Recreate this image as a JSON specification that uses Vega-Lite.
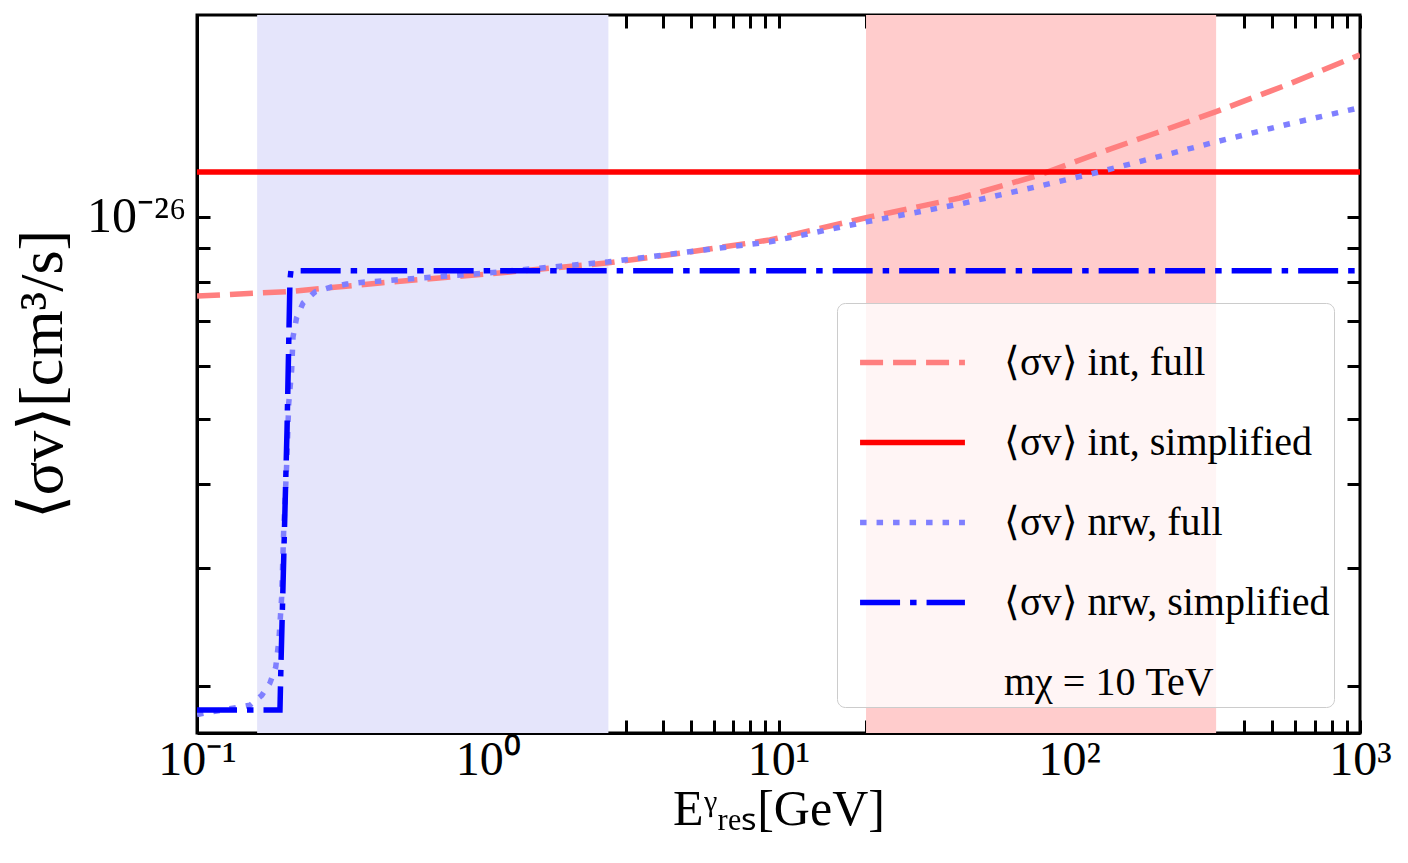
{
  "$schema": "https://vega.github.io/schema/vega-lite/v6.json",
  "width": 1163,
  "height": 718,
  "autosize": {"type": "none"},
  "padding": {"left": 197, "top": 15, "right": 48, "bottom": 130},
  "background": "white",
  "config": {
    "view": {"stroke": "black", "strokeWidth": 3},
    "axis": {
      "grid": false,
      "domainColor": "black",
      "domainWidth": 3,
      "tickColor": "black",
      "tickWidth": 3,
      "tickSize": -13,
      "labelFont": "Liberation Serif",
      "labelColor": "black",
      "titleFont": "Liberation Serif",
      "titleColor": "black",
      "titleFontWeight": "normal"
    },
    "legend": {
      "labelFont": "Liberation Serif",
      "labelColor": "black"
    }
  },
  "datasets": {
    "bands": [
      {"band": "blue", "lo": 0.161, "hi": 2.6},
      {"band": "red", "lo": 20, "hi": 320}
    ],
    "lines": [
      {"series": "⟨σv⟩ int, full", "E": 0.1, "sv": 7.62e-27},
      {"series": "⟨σv⟩ int, full", "E": 0.209, "sv": 7.74e-27},
      {"series": "⟨σv⟩ int, full", "E": 0.426, "sv": 7.97e-27},
      {"series": "⟨σv⟩ int, full", "E": 1.0, "sv": 8.22e-27},
      {"series": "⟨σv⟩ int, full", "E": 2.6, "sv": 8.54e-27},
      {"series": "⟨σv⟩ int, full", "E": 5.0, "sv": 8.87e-27},
      {"series": "⟨σv⟩ int, full", "E": 9.34, "sv": 9.24e-27},
      {"series": "⟨σv⟩ int, full", "E": 20, "sv": 9.97e-27},
      {"series": "⟨σv⟩ int, full", "E": 42, "sv": 1.067e-26},
      {"series": "⟨σv⟩ int, full", "E": 79.2, "sv": 1.155e-26},
      {"series": "⟨σv⟩ int, full", "E": 127, "sv": 1.246e-26},
      {"series": "⟨σv⟩ int, full", "E": 200, "sv": 1.335e-26},
      {"series": "⟨σv⟩ int, full", "E": 320, "sv": 1.435e-26},
      {"series": "⟨σv⟩ int, full", "E": 574, "sv": 1.58e-26},
      {"series": "⟨σv⟩ int, full", "E": 1000, "sv": 1.745e-26},
      {"series": "⟨σv⟩ int, simplified", "E": 0.1, "sv": 1.167e-26},
      {"series": "⟨σv⟩ int, simplified", "E": 1000, "sv": 1.167e-26},
      {"series": "⟨σv⟩ nrw, full", "E": 0.1, "sv": 1.812e-27},
      {"series": "⟨σv⟩ nrw, full", "E": 0.152, "sv": 1.87e-27},
      {"series": "⟨σv⟩ nrw, full", "E": 0.167, "sv": 1.935e-27},
      {"series": "⟨σv⟩ nrw, full", "E": 0.178, "sv": 2.016e-27},
      {"series": "⟨σv⟩ nrw, full", "E": 0.1865, "sv": 2.13e-27},
      {"series": "⟨σv⟩ nrw, full", "E": 0.1913, "sv": 2.337e-27},
      {"series": "⟨σv⟩ nrw, full", "E": 0.1955, "sv": 2.71e-27},
      {"series": "⟨σv⟩ nrw, full", "E": 0.1987, "sv": 3.41e-27},
      {"series": "⟨σv⟩ nrw, full", "E": 0.2035, "sv": 4.29e-27},
      {"series": "⟨σv⟩ nrw, full", "E": 0.2068, "sv": 5.28e-27},
      {"series": "⟨σv⟩ nrw, full", "E": 0.2116, "sv": 5.91e-27},
      {"series": "⟨σv⟩ nrw, full", "E": 0.2139, "sv": 6.62e-27},
      {"series": "⟨σv⟩ nrw, full", "E": 0.22, "sv": 7.07e-27},
      {"series": "⟨σv⟩ nrw, full", "E": 0.2316, "sv": 7.44e-27},
      {"series": "⟨σv⟩ nrw, full", "E": 0.2547, "sv": 7.73e-27},
      {"series": "⟨σv⟩ nrw, full", "E": 0.29, "sv": 7.86e-27},
      {"series": "⟨σv⟩ nrw, full", "E": 0.327, "sv": 7.94e-27},
      {"series": "⟨σv⟩ nrw, full", "E": 0.372, "sv": 7.99e-27},
      {"series": "⟨σv⟩ nrw, full", "E": 0.436, "sv": 8.03e-27},
      {"series": "⟨σv⟩ nrw, full", "E": 1.0, "sv": 8.25e-27},
      {"series": "⟨σv⟩ nrw, full", "E": 2.6, "sv": 8.57e-27},
      {"series": "⟨σv⟩ nrw, full", "E": 9.34, "sv": 9.18e-27},
      {"series": "⟨σv⟩ nrw, full", "E": 20, "sv": 9.83e-27},
      {"series": "⟨σv⟩ nrw, full", "E": 42, "sv": 1.045e-26},
      {"series": "⟨σv⟩ nrw, full", "E": 79.2, "sv": 1.112e-26},
      {"series": "⟨σv⟩ nrw, full", "E": 127, "sv": 1.167e-26},
      {"series": "⟨σv⟩ nrw, full", "E": 320, "sv": 1.294e-26},
      {"series": "⟨σv⟩ nrw, full", "E": 574, "sv": 1.377e-26},
      {"series": "⟨σv⟩ nrw, full", "E": 1000, "sv": 1.455e-26},
      {"series": "⟨σv⟩ nrw, simplified", "E": 0.1, "sv": 1.84e-27},
      {"series": "⟨σv⟩ nrw, simplified", "E": 0.1929, "sv": 1.84e-27},
      {"series": "⟨σv⟩ nrw, simplified", "E": 0.1945, "sv": 2.16e-27},
      {"series": "⟨σv⟩ nrw, simplified", "E": 0.204, "sv": 4.81e-27},
      {"series": "⟨σv⟩ nrw, simplified", "E": 0.2088, "sv": 8.05e-27},
      {"series": "⟨σv⟩ nrw, simplified", "E": 0.2104, "sv": 8.31e-27},
      {"series": "⟨σv⟩ nrw, simplified", "E": 1000, "sv": 8.31e-27}
    ]
  },
  "layer": [
    {
      "data": {"name": "bands"},
      "mark": {"type": "rect"},
      "encoding": {
        "x": {"field": "lo", "type": "quantitative", "scale": {"type": "log", "domain": [0.1, 1000], "nice": false}, "axis": null},
        "x2": {"field": "hi"},
        "fill": {"field": "band", "type": "nominal", "scale": {"domain": ["blue", "red"], "range": ["#e5e5fb", "#ffcccc"]}, "legend": null}
      }
    },
    {
      "data": {"name": "lines"},
      "mark": {"type": "line", "strokeWidth": 5.5, "clip": true},
      "encoding": {
        "x": {
          "field": "E", "type": "quantitative",
          "scale": {"type": "log", "domain": [0.1, 1000], "nice": false},
          "axis": {
            "orient": "bottom",
            "title": "Eᵞᵣₑₛ[GeV]",
            "titleFontSize": 50,
            "titlePadding": 0,
            "labelFontSize": 48,
            "labelPadding": 16,
            "labelFlush": false,
            "labelOverlap": false,
            "values": [0.1,0.2,0.3,0.4,0.5,0.6,0.7,0.8,0.9,1,2,3,4,5,6,7,8,9,10,20,30,40,50,60,70,80,90,100,200,300,400,500,600,700,800,900,1000],
            "labelExpr": "datum.value == 0.1 ? '10⁻¹' : datum.value == 1 ? '10⁰' : datum.value == 10 ? '10¹' : datum.value == 100 ? '10²' : datum.value == 1000 ? '10³' : ''"
          }
        },
        "y": {
          "field": "sv", "type": "quantitative",
          "scale": {"type": "log", "domain": [1.7e-27, 2.0e-26], "nice": false},
          "axis": {
            "orient": "left",
            "title": "⟨σv⟩[cm³/s]",
            "titleFontSize": 62,
            "titlePadding": 12,
            "labelFontSize": 50,
            "labelPadding": 24,
            "labelOverlap": false,
            "values": [2e-27,3e-27,4e-27,5e-27,6e-27,7e-27,8e-27,9e-27,1e-26],
            "labelExpr": "datum.value == 1e-26 ? '10⁻²⁶' : ''"
          }
        },
        "color": {
          "field": "series", "type": "nominal",
          "scale": {
            "domain": ["⟨σv⟩ int, full", "⟨σv⟩ int, simplified", "⟨σv⟩ nrw, full", "⟨σv⟩ nrw, simplified", "mχ = 10 TeV"],
            "range": ["#ff7f7f", "#ff0000", "#7f7fff", "#0000ff", "rgba(0,0,0,0)"]
          },
          "legend": {
            "title": null,
            "orient": "bottom-right",
            "offset": 26,
            "padding": 4,
            "symbolOffset": 16,
            "fillColor": "rgba(255,255,255,0.8)",
            "strokeColor": "#cccccc",
            "cornerRadius": 8,
            "symbolType": "stroke",
            "symbolSize": 11000,
            "symbolStrokeWidth": 5.5,
            "labelFontSize": 40,
            "labelLimit": 500,
            "labelOffset": 36,
            "rowPadding": 4
          }
        },
        "strokeDash": {
          "field": "series", "type": "nominal",
          "scale": {
            "domain": ["⟨σv⟩ int, full", "⟨σv⟩ int, simplified", "⟨σv⟩ nrw, full", "⟨σv⟩ nrw, simplified", "mχ = 10 TeV"],
            "range": [[23, 10], [1, 0], [6.5, 10], [40, 10, 6.5, 10], [1, 0]]
          }
        }
      }
    },
    {
      "data": {"name": "lines"},
      "mark": {"type": "point", "opacity": 0},
      "encoding": {
        "x": {
          "field": "E", "type": "quantitative",
          "axis": {
            "orient": "top", "title": null, "labels": false, "domain": false,
            "values": [0.1,0.2,0.3,0.4,0.5,0.6,0.7,0.8,0.9,1,2,3,4,5,6,7,8,9,10,20,30,40,50,60,70,80,90,100,200,300,400,500,600,700,800,900,1000]
          }
        },
        "y": {
          "field": "sv", "type": "quantitative",
          "axis": {
            "orient": "right", "title": null, "labels": false, "domain": false,
            "values": [2e-27,3e-27,4e-27,5e-27,6e-27,7e-27,8e-27,9e-27,1e-26]
          }
        }
      }
    }
  ],
  "resolve": {"axis": {"x": "independent", "y": "independent"}}
}
